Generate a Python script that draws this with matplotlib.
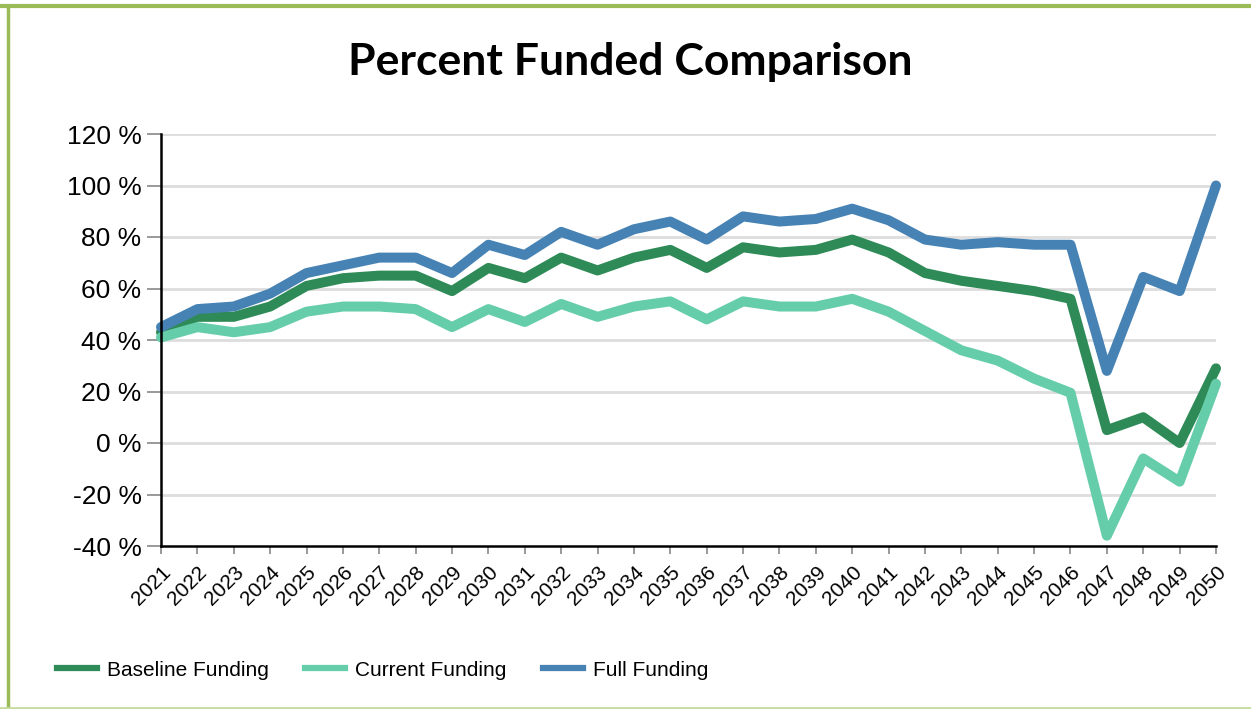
import matplotlib.pyplot as plt
from matplotlib.lines import Line2D
from matplotlib.ticker import FuncFormatter

years = list(range(2021, 2051))

baseline = [43, 49, 49, 53, 61, 64, 65, 65, 59, 68, 64, 72, 67, 72, 75, 68, 76, 74, 75, 79,
            74, 66, 63, 61, 59, 56, 5, 10, 0, 29]
current = [41, 45, 43, 45, 51, 53, 53, 52, 45, 52, 47, 54, 49, 53, 55, 48, 55, 53, 53, 56,
           51, 43.5, 36, 32, 25, 19.5, -36, -6, -15, 23]
full = [45, 52, 53, 58, 66, 69, 72, 72, 66, 77, 73, 82, 77, 83, 86, 79, 88, 86, 87, 91,
        86.5, 79, 77, 78, 77, 77, 28, 64.5, 59, 100]

series_names = ["Baseline Funding", "Current Funding", "Full Funding"]
series_colors = ["#2e8b57", "#66cdaa", "#4682b4"]

plt.rcParams['font.family'] = ['Liberation Sans', 'DejaVu Sans']

fig = plt.figure(figsize=(12.51, 7.09), dpi=100)
ax = fig.add_axes([161 / 1251, 1 - 546 / 709, (1216 - 161) / 1251, (546 - 134) / 709])

for vals, name, col in zip([baseline, current, full], series_names, series_colors):
    ax.plot(years, vals, color=col, lw=7.2, label=name, solid_capstyle='round',
            solid_joinstyle='round', zorder=3, clip_on=False)

ax.set_xlim(2021, 2050)
ax.set_ylim(-40, 120)
ax.set_yticks(range(-40, 121, 20))
ax.yaxis.set_major_formatter(FuncFormatter(lambda v, p: f"{int(v)} %"))
ax.set_xticks(years)
ax.set_xticklabels([str(y) for y in years], rotation=45, ha='right', va='top',
                   rotation_mode='anchor', fontsize=15)
ax.tick_params(axis='y', labelsize=19, length=10, width=1.2, color='#888888', pad=4)
ax.tick_params(axis='x', length=6, width=1.2, color='#888888', pad=6)

for v in range(-20, 121, 20):
    ax.axhline(v, color='#dddddd', lw=2, zorder=1)

for s in ['top', 'right']:
    ax.spines[s].set_visible(False)
for s in ['left', 'bottom']:
    ax.spines[s].set_linewidth(1.8)
    ax.spines[s].set_color('black')
    ax.spines[s].set_zorder(4)

fig.text(0.504, 0.912, "Percent Funded Comparison", ha='center', va='center',
         fontsize=32, fontweight='bold', family=['Lato', 'DejaVu Sans'])

handles = [Line2D([], [], color=c, lw=4.5) for c in series_colors]
fig.legend(handles, series_names, loc='center left', bbox_to_anchor=(57 / 1251, 1 - 670 / 709),
           frameon=False, fontsize=15, handlelength=1.9, handletextpad=0.5,
           columnspacing=1.75, ncol=3, borderpad=0, borderaxespad=0)

# green frame
fig.add_artist(Line2D([0, 1], [1 - 6 / 709, 1 - 6 / 709], color='#9bbb59', lw=3,
                      transform=fig.transFigure))
fig.add_artist(Line2D([8 / 1251, 8 / 1251], [0, 1 - 6 / 709], color='#9bbb59', lw=2.5,
                      transform=fig.transFigure))
fig.add_artist(Line2D([0, 1], [1.5 / 709, 1.5 / 709], color='#c6dc9e', lw=2,
                      transform=fig.transFigure))

fig.savefig("out.png", dpi=100)
